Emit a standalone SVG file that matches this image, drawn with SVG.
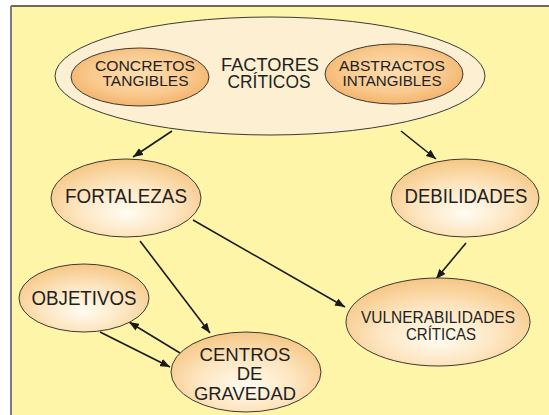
<svg xmlns="http://www.w3.org/2000/svg" width="549" height="415" viewBox="0 0 549 415">
<defs>
<radialGradient id="gNode" cx="50%" cy="60%" r="60%" fx="50%" fy="70%">
<stop offset="0" stop-color="#FFFCF2"/>
<stop offset="0.55" stop-color="#FDE5BF"/>
<stop offset="1" stop-color="#F6C684"/>
</radialGradient>
<radialGradient id="gInner" cx="50%" cy="45%" r="60%">
<stop offset="0" stop-color="#FCDDB0"/>
<stop offset="0.6" stop-color="#F9C98E"/>
<stop offset="1" stop-color="#F2AE62"/>
</radialGradient>
<marker id="ah" viewBox="0 0 10 8" refX="10" refY="4" markerWidth="10" markerHeight="8" markerUnits="userSpaceOnUse" orient="auto">
<path d="M0,0 L10,4 L0,8 Z" fill="#1a1a1a"/>
</marker>
<style>
.node{stroke:#3a3a3a;stroke-width:1}
.lbl{font-family:"Liberation Sans",Arial,sans-serif;fill:#231f20;text-anchor:middle}
.conn{stroke:#1a1a1a;stroke-width:1.6;fill:none;marker-end:url(#ah)}
</style>
</defs>
<rect x="11" y="6" width="538" height="409" fill="#FFF5A8"/>
<line x1="11" y1="6" x2="549" y2="6" stroke="#3a3a3a" stroke-width="1.6"/>
<line x1="11" y1="6" x2="11" y2="415" stroke="#7a7a7a" stroke-width="2"/>

<g id="connectors">
<line class="conn" x1="172" y1="131" x2="133" y2="157"/>
<line class="conn" x1="401" y1="131" x2="436" y2="159"/>
<line class="conn" x1="466" y1="243" x2="436" y2="279"/>
<line class="conn" x1="193" y1="220" x2="345" y2="307"/>
<line class="conn" x1="140" y1="241" x2="210" y2="333"/>
<line class="conn" x1="180" y1="353" x2="129" y2="322"/>
<line class="conn" x1="100" y1="332" x2="170" y2="367"/>
</g>

<g id="factores">
<ellipse cx="270" cy="76" rx="215" ry="59" fill="#FCEFD2" stroke="#3a3a3a" stroke-width="1"/>
<text class="lbl" font-size="18"><tspan x="270" y="70.5" textLength="98" lengthAdjust="spacingAndGlyphs">FACTORES</tspan><tspan x="269" y="88" textLength="83" lengthAdjust="spacingAndGlyphs">CRÍTICOS</tspan></text>
</g>
<g id="concretos">
<ellipse cx="140" cy="77" rx="69" ry="29" fill="url(#gInner)" class="node"/>
<text class="lbl" font-size="15.5"><tspan x="145" y="70.5" textLength="100" lengthAdjust="spacingAndGlyphs">CONCRETOS</tspan><tspan x="145.5" y="86" textLength="86" lengthAdjust="spacingAndGlyphs">TANGIBLES</tspan></text>
</g>
<g id="abstractos">
<ellipse cx="394" cy="74" rx="69" ry="30" fill="url(#gInner)" class="node"/>
<text class="lbl" font-size="15.5"><tspan x="392" y="70.5" textLength="106" lengthAdjust="spacingAndGlyphs">ABSTRACTOS</tspan><tspan x="392" y="86" textLength="99" lengthAdjust="spacingAndGlyphs">INTANGIBLES</tspan></text>
</g>
<g id="fortalezas">
<ellipse cx="126" cy="198" rx="75" ry="39" fill="url(#gNode)" class="node"/>
<text class="lbl" font-size="19.5" x="126" y="202.5" textLength="122" lengthAdjust="spacingAndGlyphs">FORTALEZAS</text>
</g>
<g id="debilidades">
<ellipse cx="465" cy="198" rx="74" ry="39" fill="url(#gNode)" class="node"/>
<text class="lbl" font-size="19.5" x="466" y="202.5" textLength="123" lengthAdjust="spacingAndGlyphs">DEBILIDADES</text>
</g>
<g id="objetivos">
<ellipse cx="84" cy="298" rx="65" ry="34" fill="url(#gNode)" class="node"/>
<text class="lbl" font-size="19.5" x="84" y="305" textLength="105" lengthAdjust="spacingAndGlyphs">OBJETIVOS</text>
</g>
<g id="centros">
<ellipse cx="246" cy="372" rx="75" ry="40" fill="url(#gNode)" class="node"/>
<text class="lbl" font-size="18.5"><tspan x="245" y="361" textLength="91" lengthAdjust="spacingAndGlyphs">CENTROS</tspan><tspan x="249.5" y="379.5">DE</tspan><tspan x="245" y="400" textLength="102" lengthAdjust="spacingAndGlyphs">GRAVEDAD</tspan></text>
</g>
<g id="vulnerabilidades">
<ellipse cx="438" cy="322" rx="92" ry="44" fill="url(#gNode)" class="node"/>
<text class="lbl" font-size="17"><tspan x="438" y="323" textLength="154" lengthAdjust="spacingAndGlyphs">VULNERABILIDADES</tspan><tspan x="441" y="340" textLength="70" lengthAdjust="spacingAndGlyphs">CRÍTICAS</tspan></text>
</g>
</svg>
